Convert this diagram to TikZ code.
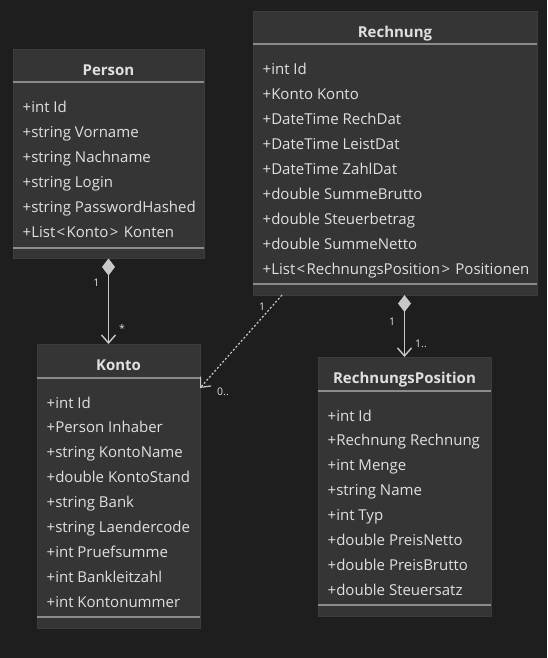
\documentclass[tikz,border=0pt]{standalone}
\usepackage{fontspec}
\setmainfont{Open Sans}
\usetikzlibrary{arrows.meta}
\definecolor{bg}{HTML}{1E1E1E}
\definecolor{boxfill}{HTML}{353535}
\definecolor{boxedge}{HTML}{3C3C3C}
\definecolor{sepc}{HTML}{8C8C8C}
\definecolor{txt}{HTML}{E0E0E0}
\definecolor{linec}{HTML}{C8C8C8}
\newcommand{\lt}{\kern1.4pt<\kern1.4pt}
\newcommand{\gt}{\kern1.4pt>\kern1.4pt}
\tikzset{
  cbox/.style={rectangle, fill=boxfill, draw=boxedge, line width=0.8pt, inner sep=0pt, outer sep=0pt, anchor=north west},
  ctitle/.style={anchor=base, inner sep=0pt, text=txt, font=\fontsize{15}{17}\selectfont\bfseries},
  attr/.style={anchor=base west, inner sep=0pt, text=txt, font=\fontsize{15}{17}\selectfont},
  sepline/.style={draw=sepc, line width=2pt},
  assoc/.style={draw=linec, line width=1.4pt},
  mult/.style={inner sep=0pt, text=txt, font=\fontsize{10.5}{12}\selectfont},
  compo/.style={assoc, {Diamond[length=17pt,width=13pt,fill=linec]}-{Straight Barb[length=8pt,width=14pt]}},
  depend/.style={assoc, line width=1.2pt, dash pattern=on 2pt off 2pt, -{Straight Barb[length=8pt,width=14pt]}}
}
\begin{document}
\begin{tikzpicture}[x=1pt,y=-1pt]
\fill[bg] (0,0) rectangle (547,658);
\useasboundingbox (0,0) rectangle (547,658);

% Person
\node[cbox, minimum width=191pt, minimum height=209.5pt] (person) at (13,49) {};
\node[ctitle] (persontitle) at (108.5,75.5) {Person};
\foreach \t [count=\i from 0] in {+int Id,+string Vorname,+string Nachname,+string Login,+string PasswordHashed,+List\lt Konto\gt{} Konten}
  \node[attr] (person-\i) at (22.5,113+24.9*\i) {\t};
\draw[sepline] ([yshift=-33.5pt]person.north west) -- ([yshift=-33.5pt]person.north east);
\draw[sepline] ([yshift=11pt]person.south west) -- ([yshift=11pt]person.south east);

% Rechnung
\node[cbox, minimum width=284pt, minimum height=284pt] (rechnung) at (253,11) {};
\node[ctitle] (rechnungtitle) at (395,37.5) {Rechnung};
\foreach \t [count=\i from 0] in {+int Id,+Konto Konto,+DateTime RechDat,+DateTime LeistDat,+DateTime ZahlDat,+double SummeBrutto,+double Steuerbetrag,+double SummeNetto,+List\lt RechnungsPosition\gt{} Positionen}
  \node[attr] (rechnung-\i) at (262.5,75+24.9*\i) {\t};
\draw[sepline] ([yshift=-33.5pt]rechnung.north west) -- ([yshift=-33.5pt]rechnung.north east);
\draw[sepline] ([yshift=11pt]rechnung.south west) -- ([yshift=11pt]rechnung.south east);

% Konto
\node[cbox, minimum width=163pt, minimum height=284pt] (konto) at (37,344) {};
\node[ctitle] (kontotitle) at (118.5,370.5) {Konto};
\foreach \t [count=\i from 0] in {+int Id,+Person Inhaber,+string KontoName,+double KontoStand,+string Bank,+string Laendercode,+int Pruefsumme,+int Bankleitzahl,+int Kontonummer}
  \node[attr] (konto-\i) at (46.5,408+24.9*\i) {\t};
\draw[sepline] ([yshift=-33.5pt]konto.north west) -- ([yshift=-33.5pt]konto.north east);
\draw[sepline] ([yshift=11pt]konto.south west) -- ([yshift=11pt]konto.south east);

% RechnungsPosition
\node[cbox, minimum width=173pt, minimum height=259pt] (rp) at (318,357) {};
\node[ctitle] (rptitle) at (404.5,383.5) {RechnungsPosition};
\foreach \t [count=\i from 0] in {+int Id,+Rechnung Rechnung,+int Menge,+string Name,+int Typ,+double PreisNetto,+double PreisBrutto,+double Steuersatz}
  \node[attr] (rp-\i) at (327.5,421+24.9*\i) {\t};
\draw[sepline] ([yshift=-33.5pt]rp.north west) -- ([yshift=-33.5pt]rp.north east);
\draw[sepline] ([yshift=11pt]rp.south west) -- ([yshift=11pt]rp.south east);

% Connectors
\draw[compo] (person.south) -- (person.south |- konto.north);
\draw[compo] (rechnung.south -| rp.north) -- (rp.north);
\coordinate (dstart) at ([xshift=29pt]rechnung.south west);
\coordinate (dend) at ([yshift=-44pt]konto.north east);
\draw[depend] (dstart) -- (dend);

% Multiplicities
\node[mult] (m1) at (96.5,283) {1};
\node[mult] (m2) at (122,329) {*};
\node[mult] (m3) at (262,307) {1};
\node[mult] (m4) at (223,392) {0..};
\node[mult] (m5) at (392,322) {1};
\node[mult] (m6) at (421,343.5) {1..};
\end{tikzpicture}
\end{document}
